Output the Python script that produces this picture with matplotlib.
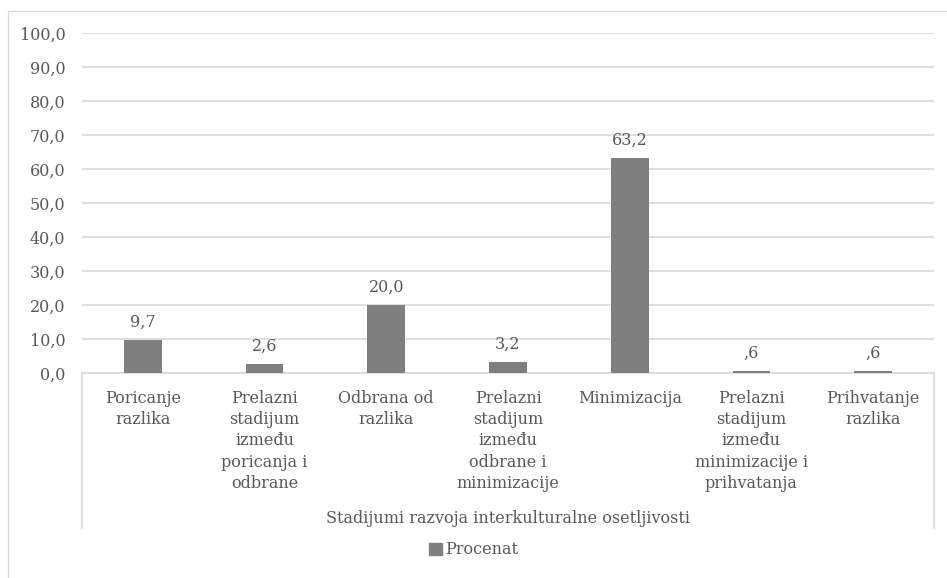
import matplotlib.pyplot as plt
from matplotlib.lines import Line2D
from matplotlib.patches import Rectangle
import matplotlib.transforms as mtransforms

# stages and percentages
categories = [
    "Poricanje\nrazlika",
    "Prelazni\nstadijum\nizmeđu\nporicanja i\nodbrane",
    "Odbrana od\nrazlika",
    "Prelazni\nstadijum\nizmeđu\nodbrane i\nminimizacije",
    "Minimizacija",
    "Prelazni\nstadijum\nizmeđu\nminimizacije i\nprihvatanja",
    "Prihvatanje\nrazlika",
]
procenat = [9.7, 2.6, 20.0, 3.2, 63.2, 0.6, 0.6]
y_ticks = [0, 10, 20, 30, 40, 50, 60, 70, 80, 90, 100]
group_label = "Stadijumi razvoja interkulturalne osetljivosti"
series_name = "Procenat"

TEXT = "#595959"
GRID = "#d9d9d9"
BAR = "#7f7f7f"
FS = 11.5

plt.rcParams['font.family'] = ['DejaVu Serif']

fig = plt.figure(figsize=(9.47, 5.78), dpi=100)
ax = fig.add_axes([82 / 947, 1 - 373 / 578, (934 - 82) / 947, 340 / 578])

x = list(range(len(categories)))
ax.bar(x, procenat, width=0.31, color=BAR, zorder=3)


def fmt(v):
    s = f"{v:.1f}".replace('.', ',')
    return s[1:] if s.startswith("0,") else s


for xi, v in zip(x, procenat):
    ax.annotate(fmt(v), (xi, v), xytext=(0, 6.5), textcoords="offset points",
                ha="center", va="bottom", fontsize=FS, color=TEXT)

ax.set_xlim(-0.5, len(categories) - 0.5)
ax.set_ylim(0, 100)
ax.set_yticks(y_ticks)
ax.set_yticklabels([f"{t:.1f}".replace('.', ',') for t in y_ticks],
                   fontsize=FS, color=TEXT)
ax.set_xticks(x)
ax.set_xticklabels(categories, fontsize=FS, color=TEXT, linespacing=1.33,
                   va="top")
ax.tick_params(axis="both", length=0)
ax.tick_params(axis="y", pad=12)
ax.tick_params(axis="x", pad=12)
ax.yaxis.grid(True, color=GRID, linewidth=1.2, zorder=0)

for side in ["top", "right", "left"]:
    ax.spines[side].set_visible(False)
ax.spines["bottom"].set_color(GRID)
ax.spines["bottom"].set_linewidth(1.2)

# side lines of the category axis box
trans = mtransforms.blended_transform_factory(ax.transData, ax.transAxes)
for xv in [-0.5, len(categories) - 0.5]:
    ax.add_line(Line2D([xv, xv], [0, -0.456], transform=trans, color=GRID,
                       linewidth=1.2, clip_on=False))

ax.text(0.5, -0.428, group_label, transform=ax.transAxes, ha="center",
        va="center", fontsize=FS, color=TEXT)

# legend
handle = Rectangle((0, 0), 1, 1, color=BAR)
fig.legend([handle], [series_name], loc="center", bbox_to_anchor=(0.5, 1 - 550 / 578),
           frameon=False, fontsize=FS, labelcolor=TEXT, handlelength=0.8,
           handleheight=0.8, handletextpad=0.2)

# chart frame
fig.add_artist(Rectangle((8 / 947, -0.1), 1.2, 1 - 11 / 578 + 0.1,
                         transform=fig.transFigure, fill=False,
                         edgecolor=GRID, linewidth=1.0))

fig.savefig("out.png", dpi=100)
